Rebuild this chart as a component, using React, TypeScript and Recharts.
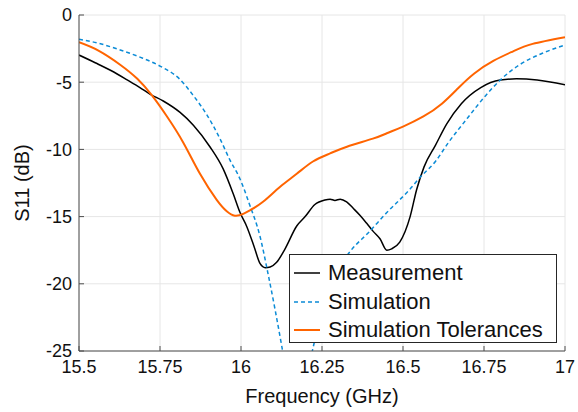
import React from 'react';
import { LineChart, Line, XAxis, YAxis, CartesianGrid, Legend } from 'recharts';

const measurementFreq = [15.5, 15.55, 15.6, 15.65, 15.688, 15.72, 15.76, 15.812, 15.853, 15.904, 15.945, 15.976, 15.997, 16.018, 16.04, 16.059, 16.075, 16.09, 16.11, 16.136, 16.172, 16.198, 16.228, 16.259, 16.275, 16.29, 16.306, 16.326, 16.347, 16.367, 16.388, 16.408, 16.429, 16.45, 16.465, 16.49, 16.522, 16.542, 16.565, 16.6, 16.635, 16.68, 16.74, 16.8, 16.85, 16.914, 17.0];
const measurementS11 = [-2.98, -3.55, -4.15, -4.85, -5.4, -5.9, -6.4, -7.25, -8.2, -9.8, -11.45, -13.3, -14.7, -15.75, -17.2, -18.5, -18.8, -18.75, -18.4, -17.4, -15.7, -15.0, -14.1, -13.76, -13.7, -13.8, -13.7, -13.9, -14.4, -14.9, -15.5, -16.1, -16.65, -17.5, -17.4, -16.9, -15.0, -13.0, -11.3, -9.7, -8.1, -6.6, -5.4, -4.84, -4.75, -4.84, -5.2];

const simulationFreq = [15.5, 15.56, 15.627, 15.69, 15.75, 15.812, 15.853, 15.894, 15.935, 15.966, 15.997, 16.025, 16.059, 16.083, 16.127, 16.17, 16.222, 16.26, 16.3, 16.34, 16.393, 16.45, 16.52, 16.552, 16.6, 16.64, 16.698, 16.755, 16.8, 16.86, 16.93, 17.0];
const simulationS11 = [-1.8, -2.1, -2.6, -3.15, -3.8, -4.8, -6.0, -7.4, -9.2, -10.8, -12.2, -14.0, -16.5, -19.2, -24.8, -31, -24.8, -21.2, -18.9, -17.5, -16.2, -14.7, -13.0, -12.1, -10.9, -9.5, -7.7, -6.0, -4.84, -3.7, -2.85, -2.23];

const toleranceFreq = [15.5, 15.56, 15.627, 15.68, 15.724, 15.77, 15.822, 15.873, 15.925, 15.956, 15.981, 16.007, 16.03, 16.068, 16.12, 16.173, 16.222, 16.275, 16.327, 16.407, 16.45, 16.5, 16.563, 16.62, 16.67, 16.72, 16.78, 16.84, 16.9, 17.0];
const toleranceS11 = [-2.03, -2.65, -3.7, -4.75, -5.95, -7.5, -9.5, -11.8, -13.75, -14.6, -14.93, -14.8, -14.5, -13.9, -12.8, -11.8, -10.9, -10.3, -9.8, -9.2, -8.8, -8.3, -7.55, -6.6, -5.45, -4.35, -3.4, -2.7, -2.15, -1.65];

const xTicks = [15.5, 15.75, 16, 16.25, 16.5, 16.75, 17];
const yTicks = [-25, -20, -15, -10, -5, 0];

const seriesNames = ['Measurement', 'Simulation', 'Simulation Tolerances'];
const seriesColors = ['#000000', '#0b8bd6', '#ff6400'];

const zip = (f: number[], v: number[]) => f.map((x, i) => ({ f: x, v: v[i] }));

const FONT = '"Liberation Sans", Arial, Helvetica, sans-serif';
const AXIS = '#4d4d4d';

const XTickBottom = (props: any) => {
  const { x, y, payload } = props;
  return (
    <g>
      <line x1={x} x2={x} y1={y} y2={y - 5} stroke={AXIS} strokeWidth={1} />
      <text x={x} y={y + 22} textAnchor="middle" fontSize={18} fontFamily={FONT} fill="#111">
        {String(payload.value)}
      </text>
    </g>
  );
};

const XTickTop = (props: any) => {
  const { x, y } = props;
  return <line x1={x} x2={x} y1={y} y2={y + 5} stroke={AXIS} strokeWidth={1} />;
};

const YTickLeft = (props: any) => {
  const { x, y, payload } = props;
  return (
    <g>
      <line x1={x} x2={x + 5} y1={y} y2={y} stroke={AXIS} strokeWidth={1} />
      <text x={x - 7} y={y + 6.4} textAnchor="end" fontSize={18} fontFamily={FONT} fill="#111">
        {String(payload.value)}
      </text>
    </g>
  );
};

const YTickRight = (props: any) => {
  const { x, y } = props;
  return <line x1={x} x2={x - 5} y1={y} y2={y} stroke={AXIS} strokeWidth={1} />;
};

const LegendBox = () => (
  <div
    style={{
      width: 268,
      height: 89,
      border: '1px solid #262626',
      background: '#fff',
      fontFamily: FONT,
      fontSize: 22,
      color: '#111',
      paddingTop: 4,
      boxSizing: 'border-box',
    }}
  >
    {seriesNames.map((name, i) => (
      <div key={name} style={{ display: 'flex', alignItems: 'center', height: 28.5, whiteSpace: 'nowrap' }}>
        <svg width={38} height={10} style={{ flex: 'none' }}>
          <line
            x1={4}
            x2={30}
            y1={5}
            y2={5}
            stroke={seriesColors[i]}
            strokeWidth={i === 2 ? 2 : 1.5}
            strokeDasharray={i === 1 ? '4 3' : undefined}
          />
        </svg>
        <span>{name}</span>
      </div>
    ))}
  </div>
);

export default function App() {
  return (
    <div style={{ position: 'absolute', left: 0, top: 0, width: 578, height: 412, background: '#fff' }}>
      <LineChart width={578} height={412} margin={{ top: 15, right: 13, left: 0, bottom: 0 }}>
        <CartesianGrid stroke="#e6e6e6" strokeWidth={1} />
        <XAxis
          dataKey="f"
          type="number"
          domain={[15.5, 17]}
          ticks={xTicks}
          allowDataOverflow
          height={61}
          tickSize={0}
          tickMargin={0}
          tickLine={false}
          tick={<XTickBottom />}
          axisLine={{ stroke: AXIS, strokeWidth: 1 }}
          interval={0}
          label={() => (
            <text x={322} y={403} textAnchor="middle" fontSize={20} fontFamily={FONT} fill="#111">
              Frequency (GHz)
            </text>
          )}
        />
        <XAxis
          xAxisId="top"
          orientation="top"
          dataKey="f"
          type="number"
          domain={[15.5, 17]}
          ticks={xTicks}
          allowDataOverflow
          height={0}
          tickSize={0}
          tickMargin={0}
          tickLine={false}
          tick={<XTickTop />}
          axisLine={{ stroke: AXIS, strokeWidth: 1 }}
          interval={0}
        />
        <YAxis
          type="number"
          domain={[-25, 0]}
          ticks={yTicks}
          allowDataOverflow
          width={79}
          tickSize={0}
          tickMargin={0}
          tickLine={false}
          tick={<YTickLeft />}
          axisLine={{ stroke: AXIS, strokeWidth: 1 }}
          interval={0}
          label={() => (
            <text
              x={29}
              y={183}
              transform="rotate(-90, 29, 183)"
              textAnchor="middle"
              fontSize={20}
              fontFamily={FONT}
              fill="#111"
            >
              S11 (dB)
            </text>
          )}
        />
        <YAxis
          yAxisId="right"
          orientation="right"
          type="number"
          domain={[-25, 0]}
          ticks={yTicks}
          allowDataOverflow
          width={0}
          tickSize={0}
          tickMargin={0}
          tickLine={false}
          tick={<YTickRight />}
          axisLine={{ stroke: AXIS, strokeWidth: 1 }}
          interval={0}
        />
        <Line
          data={zip(measurementFreq, measurementS11)}
          dataKey="v"
          name={seriesNames[0]}
          type="monotone"
          stroke={seriesColors[0]}
          strokeWidth={1.5}
          dot={false}
          activeDot={false}
          isAnimationActive={false}
        />
        <Line
          data={zip(simulationFreq, simulationS11)}
          dataKey="v"
          name={seriesNames[1]}
          type="monotone"
          stroke={seriesColors[1]}
          strokeWidth={1.5}
          strokeDasharray="4 3"
          dot={false}
          activeDot={false}
          isAnimationActive={false}
        />
        <Line
          data={zip(toleranceFreq, toleranceS11)}
          dataKey="v"
          name={seriesNames[2]}
          type="natural"
          stroke={seriesColors[2]}
          strokeWidth={2}
          dot={false}
          activeDot={false}
          isAnimationActive={false}
        />
        <Legend
          layout="vertical"
          align="center"
          verticalAlign="middle"
          wrapperStyle={{ position: 'absolute', left: 289, top: 254, width: 268, height: 89 }}
          content={() => <LegendBox />}
        />
      </LineChart>
    </div>
  );
}
